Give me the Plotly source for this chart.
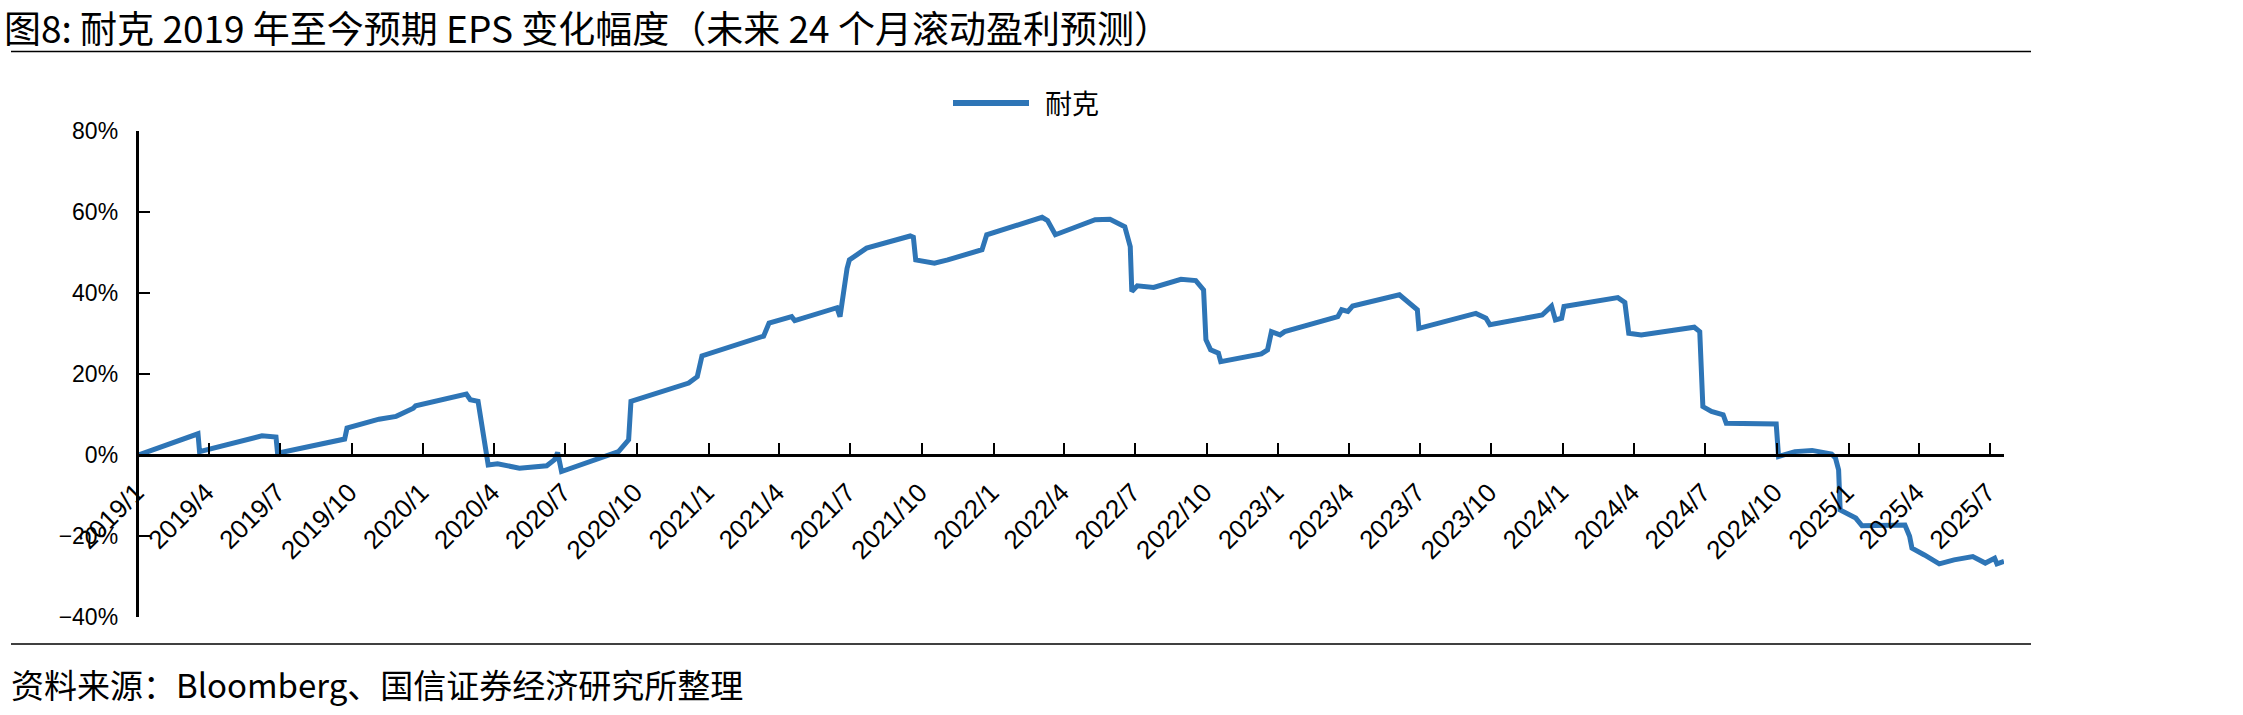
import plotly.graph_objects as go

# ---- data ----
dates = [
    "2019-01-01", "2019-03-18", "2019-03-20", "2019-06-08", "2019-06-26", "2019-06-28",
    "2019-09-22", "2019-09-25", "2019-11-05", "2019-11-27", "2019-12-19", "2019-12-22",
    "2020-02-25", "2020-03-01", "2020-03-11", "2020-03-17", "2020-03-24", "2020-04-05",
    "2020-05-03", "2020-06-07", "2020-06-17", "2020-06-21", "2020-06-26", "2020-09-07",
    "2020-09-20", "2020-09-23", "2020-12-06", "2020-12-17", "2020-12-23", "2021-03-12",
    "2021-03-19", "2021-04-17", "2021-04-21", "2021-06-14", "2021-06-18", "2021-06-27",
    "2021-06-30", "2021-07-22", "2021-09-16", "2021-09-20", "2021-09-23", "2021-10-17",
    "2021-11-03", "2021-12-17", "2021-12-23", "2022-03-04", "2022-03-11", "2022-03-21",
    "2022-04-22", "2022-05-11", "2022-05-30", "2022-06-18", "2022-06-25", "2022-06-27",
    "2022-07-04", "2022-07-25", "2022-08-29", "2022-09-17", "2022-09-27", "2022-09-30",
    "2022-10-06", "2022-10-16", "2022-10-19", "2022-12-10", "2022-12-18", "2022-12-23",
    "2023-01-03", "2023-01-09", "2023-03-18", "2023-03-23", "2023-03-31", "2023-04-06",
    "2023-06-05", "2023-06-20", "2023-06-28", "2023-06-30", "2023-09-03", "2023-09-11",
    "2023-09-24", "2023-09-29", "2023-12-05", "2023-12-17", "2023-12-22", "2023-12-30",
    "2024-01-02", "2024-03-11", "2024-03-20", "2024-03-25", "2024-04-10", "2024-06-17",
    "2024-06-24", "2024-06-28", "2024-07-09", "2024-07-24", "2024-07-28", "2024-09-30",
    "2024-10-03", "2024-10-24", "2024-11-15", "2024-12-10", "2024-12-15", "2024-12-19",
    "2024-12-21", "2025-01-01", "2025-01-10", "2025-01-18", "2025-03-01", "2025-03-14",
    "2025-03-20", "2025-03-23", "2025-04-08", "2025-04-27", "2025-05-16", "2025-06-09",
    "2025-06-25", "2025-07-07", "2025-07-10", "2025-07-19",
]
nike_eps_change_pct = [
    0.0, 5.2, 0.8, 4.7, 4.4, 0.4,
    3.9, 6.6, 8.8, 9.5, 11.5, 12.1,
    15.0, 13.6, 13.2, 6.0, -2.5, -2.2,
    -3.3, -2.7, -1.2, 0.6, -4.1, 0.8,
    3.7, 13.2, 17.7, 19.3, 24.4, 29.3,
    32.5, 34.1, 33.1, 36.3, 34.1, 46.0,
    48.1, 51.0, 54.0, 53.7, 48.1, 47.3,
    48.1, 50.6, 54.3, 58.6, 57.8, 54.3,
    56.5, 58.0, 58.1, 56.3, 51.4, 40.3,
    41.7, 41.3, 43.3, 43.0, 40.7, 28.4,
    25.9, 25.1, 23.0, 24.9, 25.9, 30.4,
    29.6, 30.4, 34.1, 35.8, 35.4, 36.7,
    39.5, 37.0, 35.8, 31.2, 34.5, 34.9,
    33.7, 32.1, 34.5, 36.7, 33.3, 33.7,
    36.6, 38.8, 37.6, 30.0, 29.6, 31.5,
    30.4, 11.9, 10.7, 9.9, 7.8, 7.6,
    -0.4, 0.8, 1.1, 0.2, -0.8, -3.7,
    -13.6, -14.8, -15.6, -17.5, -17.3, -17.3,
    -20.1, -23.0, -24.7, -26.9, -25.9, -25.1,
    -26.7, -25.5, -26.9, -26.3,
]
series_name = "耐克"

tick_dates = [f"{y}-{m:02d}-01" for y in range(2019, 2026) for m in (1, 4, 7, 10)]
tick_dates = [d for d in tick_dates if d <= "2025-07-01"]
tick_labels = [f"{d[:4]}/{int(d[5:7])}" for d in tick_dates]

y_ticks = [-0.4, -0.2, 0.0, 0.2, 0.4, 0.6, 0.8]

title_text = "图8: 耐克 2019 年至今预期 EPS 变化幅度（未来 24 个月滚动盈利预测）"
source_text = "资料来源：Bloomberg、国信证券经济研究所整理"

W, H = 2243, 715
LINE_COLOR = "#2E75B6"

def px_x(p):
    return p / W

def px_y(p):
    return (H - p) / H

fig = go.Figure()
fig.add_trace(go.Scatter(
    x=dates,
    y=[v / 100 for v in nike_eps_change_pct],
    mode="lines",
    name=series_name,
    line=dict(color=LINE_COLOR, width=5),
    showlegend=False,
))

y_bottom = px_y(617)
y_top = px_y(130.6)
zero_pos = px_y(455)

fig.update_layout(
    width=W, height=H,
    margin=dict(l=0, r=0, t=0, b=0),
    paper_bgcolor="white",
    plot_bgcolor="white",
    showlegend=False,
    font=dict(family="Liberation Sans, Arial", size=24, color="black"),
    xaxis=dict(
        type="date",
        domain=[px_x(138.7), px_x(2004)],
        range=["2019-01-01", "2025-07-19"],
        anchor="free",
        position=zero_pos,
        automargin=False,
        tickmode="array",
        tickvals=tick_dates,
        ticktext=tick_labels,
        tickangle=-45,
        ticklabelposition="outside left",
        ticks="inside",
        ticklen=11,
        tickwidth=2,
        tickcolor="black",
        showline=True,
        linecolor="black",
        linewidth=3,
        showgrid=False,
        zeroline=False,
        ticklabelstandoff=10,
        tickfont=dict(family="Liberation Sans, Arial", size=26, color="black"),
    ),
    yaxis=dict(
        domain=[y_bottom, y_top],
        range=[-0.4, 0.8],
        automargin=False,
        tickmode="array",
        tickvals=y_ticks,
        tickformat=".0%",
        ticks="inside",
        ticklen=11,
        tickwidth=2,
        tickcolor="black",
        showline=True,
        linecolor="black",
        linewidth=3,
        showgrid=False,
        zeroline=False,
        ticklabelstandoff=13,
        tickfont=dict(family="Liberation Sans, Arial", size=23, color="black"),
    ),
)

# separator lines (top under title, bottom above source)
for yy in (51.5, 644):
    fig.add_shape(type="line", xref="paper", yref="paper",
                  x0=px_x(11), x1=px_x(2031), y0=px_y(yy), y1=px_y(yy),
                  line=dict(color="black", width=1.5))

# legend (line sample + label)
fig.add_shape(type="line", xref="paper", yref="paper",
              x0=px_x(953), x1=px_x(1029), y0=px_y(103), y1=px_y(103),
              line=dict(color=LINE_COLOR, width=6))
fig.add_annotation(text=series_name, xref="paper", yref="paper",
                   x=px_x(1043), y=px_y(103), xanchor="left", yanchor="middle",
                   showarrow=False,
                   font=dict(family="Noto Sans CJK SC", size=27, color="black"))

# title
fig.add_annotation(text=title_text, xref="paper", yref="paper",
                   x=px_x(2), y=px_y(27.5), xanchor="left", yanchor="middle",
                   showarrow=False,
                   font=dict(family="Noto Sans CJK SC", size=37, color="black"))

# source
fig.add_annotation(text=source_text, xref="paper", yref="paper",
                   x=px_x(9), y=px_y(684), xanchor="left", yanchor="middle",
                   showarrow=False,
                   font=dict(family="Noto Sans CJK SC", size=33, color="black"))

fig.write_html("out.html")
